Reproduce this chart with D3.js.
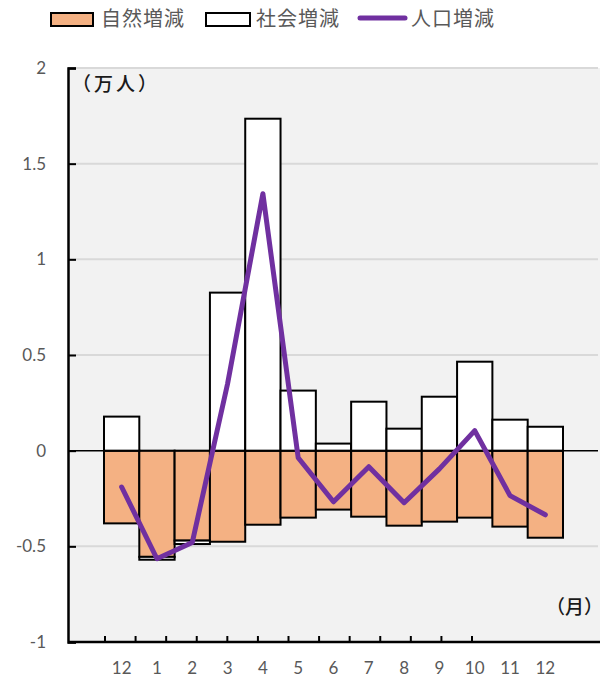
<!DOCTYPE html>
<html><head><meta charset="utf-8">
<script src="https://cdn.jsdelivr.net/npm/d3@7"></script>
<style>body{margin:0;background:#fff}svg{display:block}</style>
</head><body>
<svg id="c" width="605" height="682"></svg>
<script>
const months = ["12","1","2","3","4","5","6","7","8","9","10","11","12"];
const natural = [-0.38,-0.555,-0.47,-0.476,-0.387,-0.35,-0.308,-0.345,-0.392,-0.371,-0.35,-0.397,-0.455];
const social = [0.178,-0.015,-0.018,0.826,1.735,0.314,0.037,0.256,0.115,0.282,0.465,0.162,0.125];
const population = [-0.19,-0.565,-0.48,0.35,1.343,-0.037,-0.267,-0.084,-0.272,-0.095,0.105,-0.235,-0.335];
const yTicks = [-1,-0.5,0,0.5,1,1.5,2];
const legendLabels = ["自然増減","社会増減","人口増減"];

const svg = d3.select("#c");
const keys = months.map((m,i)=>i);
const x = d3.scaleBand().domain(keys).range([104,563]).padding(0);
const xt = d3.scalePoint().domain(keys).range([105,472]);
const y = d3.scaleLinear().domain([-1,2]).range([642,68]);
const L = 68, R = 600;
const cjk = "'Noto Sans CJK JP','Noto Sans',sans-serif";
const num = "Lato,'Open Sans',sans-serif";

// background
svg.append("rect").attr("x",L).attr("y",y(2)).attr("width",R-L).attr("height",y(-1)-y(2)).attr("fill","#f2f2f2");
// gridlines
svg.append("g").selectAll("line").data(yTicks.filter(d=>d!==0&&d!==-1)).join("line")
  .attr("x1",L).attr("x2",598).attr("y1",d=>y(d)).attr("y2",d=>y(d))
  .attr("stroke","#d9d9d9").attr("stroke-width",2);

// natural bars
svg.append("g").selectAll("rect").data(natural).join("rect")
  .attr("x",(d,i)=>x(i)).attr("width",x.bandwidth())
  .attr("y",d=>y(Math.max(0,d))).attr("height",d=>Math.abs(y(d)-y(0)))
  .attr("fill","#f4b183").attr("stroke","#000").attr("stroke-width",2);
// social bars (stacked)
svg.append("g").selectAll("rect").data(social).join("rect")
  .attr("x",(d,i)=>x(i)).attr("width",x.bandwidth())
  .attr("y",(d,i)=> d>=0 ? y(d) : y(natural[i]))
  .attr("height",(d,i)=> d>=0 ? y(0)-y(d) : y(natural[i]+d)-y(natural[i]))
  .attr("fill","#fff").attr("stroke","#000").attr("stroke-width",2);

// zero line
svg.append("line").attr("x1",L).attr("x2",598).attr("y1",y(0)).attr("y2",y(0)).attr("stroke","#000").attr("stroke-width",1.5);

// population line
svg.append("path").datum(population)
  .attr("d",d3.line().x((d,i)=>x(i)+x.bandwidth()/2).y(d=>y(d)))
  .attr("fill","none").attr("stroke","#7030a0").attr("stroke-width",5).attr("stroke-linejoin","round").attr("stroke-linecap","round");

// y axis
const ya = svg.append("g").attr("transform",`translate(${L},0)`)
  .call(d3.axisRight(y).tickValues(yTicks).tickSize(8).tickFormat(""));
ya.select(".domain").attr("stroke","#000").attr("stroke-width",2.5);
ya.selectAll(".tick line").attr("stroke","#000").attr("stroke-width",2);
svg.append("g").selectAll("text").data(yTicks).join("text")
  .attr("x",46).attr("y",d=>y(d)).attr("dy","0.35em").attr("text-anchor","end")
  .attr("font-family",num).attr("font-size",17).attr("fill","#595959").text(d=>d);

// x axis
svg.append("line").attr("x1",L).attr("x2",R).attr("y1",y(-1)).attr("y2",y(-1)).attr("stroke","#000").attr("stroke-width",2.5);
svg.append("g").selectAll("line").data(keys).join("line")
  .attr("x1",d=>xt(d)).attr("x2",d=>xt(d)).attr("y1",y(-1)).attr("y2",y(-1)-6)
  .attr("stroke","#000").attr("stroke-width",2);
svg.append("g").selectAll("text").data(keys).join("text")
  .attr("x",d=>x(d)+x.bandwidth()/2).attr("y",668).attr("dy","0.35em").attr("text-anchor","middle")
  .attr("font-family",num).attr("font-size",17).attr("fill","#595959").text(d=>months[d]);

// unit labels
svg.append("text").attr("x",72).attr("y",84).attr("dy","0.35em").attr("font-family",cjk).attr("font-size",19).attr("font-weight",500).attr("letter-spacing",3).attr("fill","#1a1a1a").text("（万人）");
svg.append("text").attr("x",603).attr("y",607).attr("dy","0.35em").attr("text-anchor","end").attr("font-family",cjk).attr("font-size",19).attr("font-weight",500).attr("fill","#1a1a1a").text("（月）");

// legend
const lg = svg.append("g").attr("font-family",cjk).attr("font-size",20).attr("fill","#595959").attr("letter-spacing",1);
lg.append("rect").attr("x",51).attr("y",13).attr("width",42).attr("height",13).attr("fill","#f4b183").attr("stroke","#000").attr("stroke-width",2);
lg.append("text").attr("x",101).attr("y",19).attr("dy","0.35em").text(legendLabels[0]);
lg.append("rect").attr("x",206).attr("y",13).attr("width",44).attr("height",13).attr("fill","#fff").attr("stroke","#000").attr("stroke-width",2);
lg.append("text").attr("x",256).attr("y",19).attr("dy","0.35em").text(legendLabels[1]);
lg.append("line").attr("x1",360).attr("x2",405).attr("y1",18).attr("y2",18).attr("stroke","#7030a0").attr("stroke-width",5).attr("stroke-linecap","round");
lg.append("text").attr("x",411).attr("y",19).attr("dy","0.35em").text(legendLabels[2]);
</script>
</body></html>
